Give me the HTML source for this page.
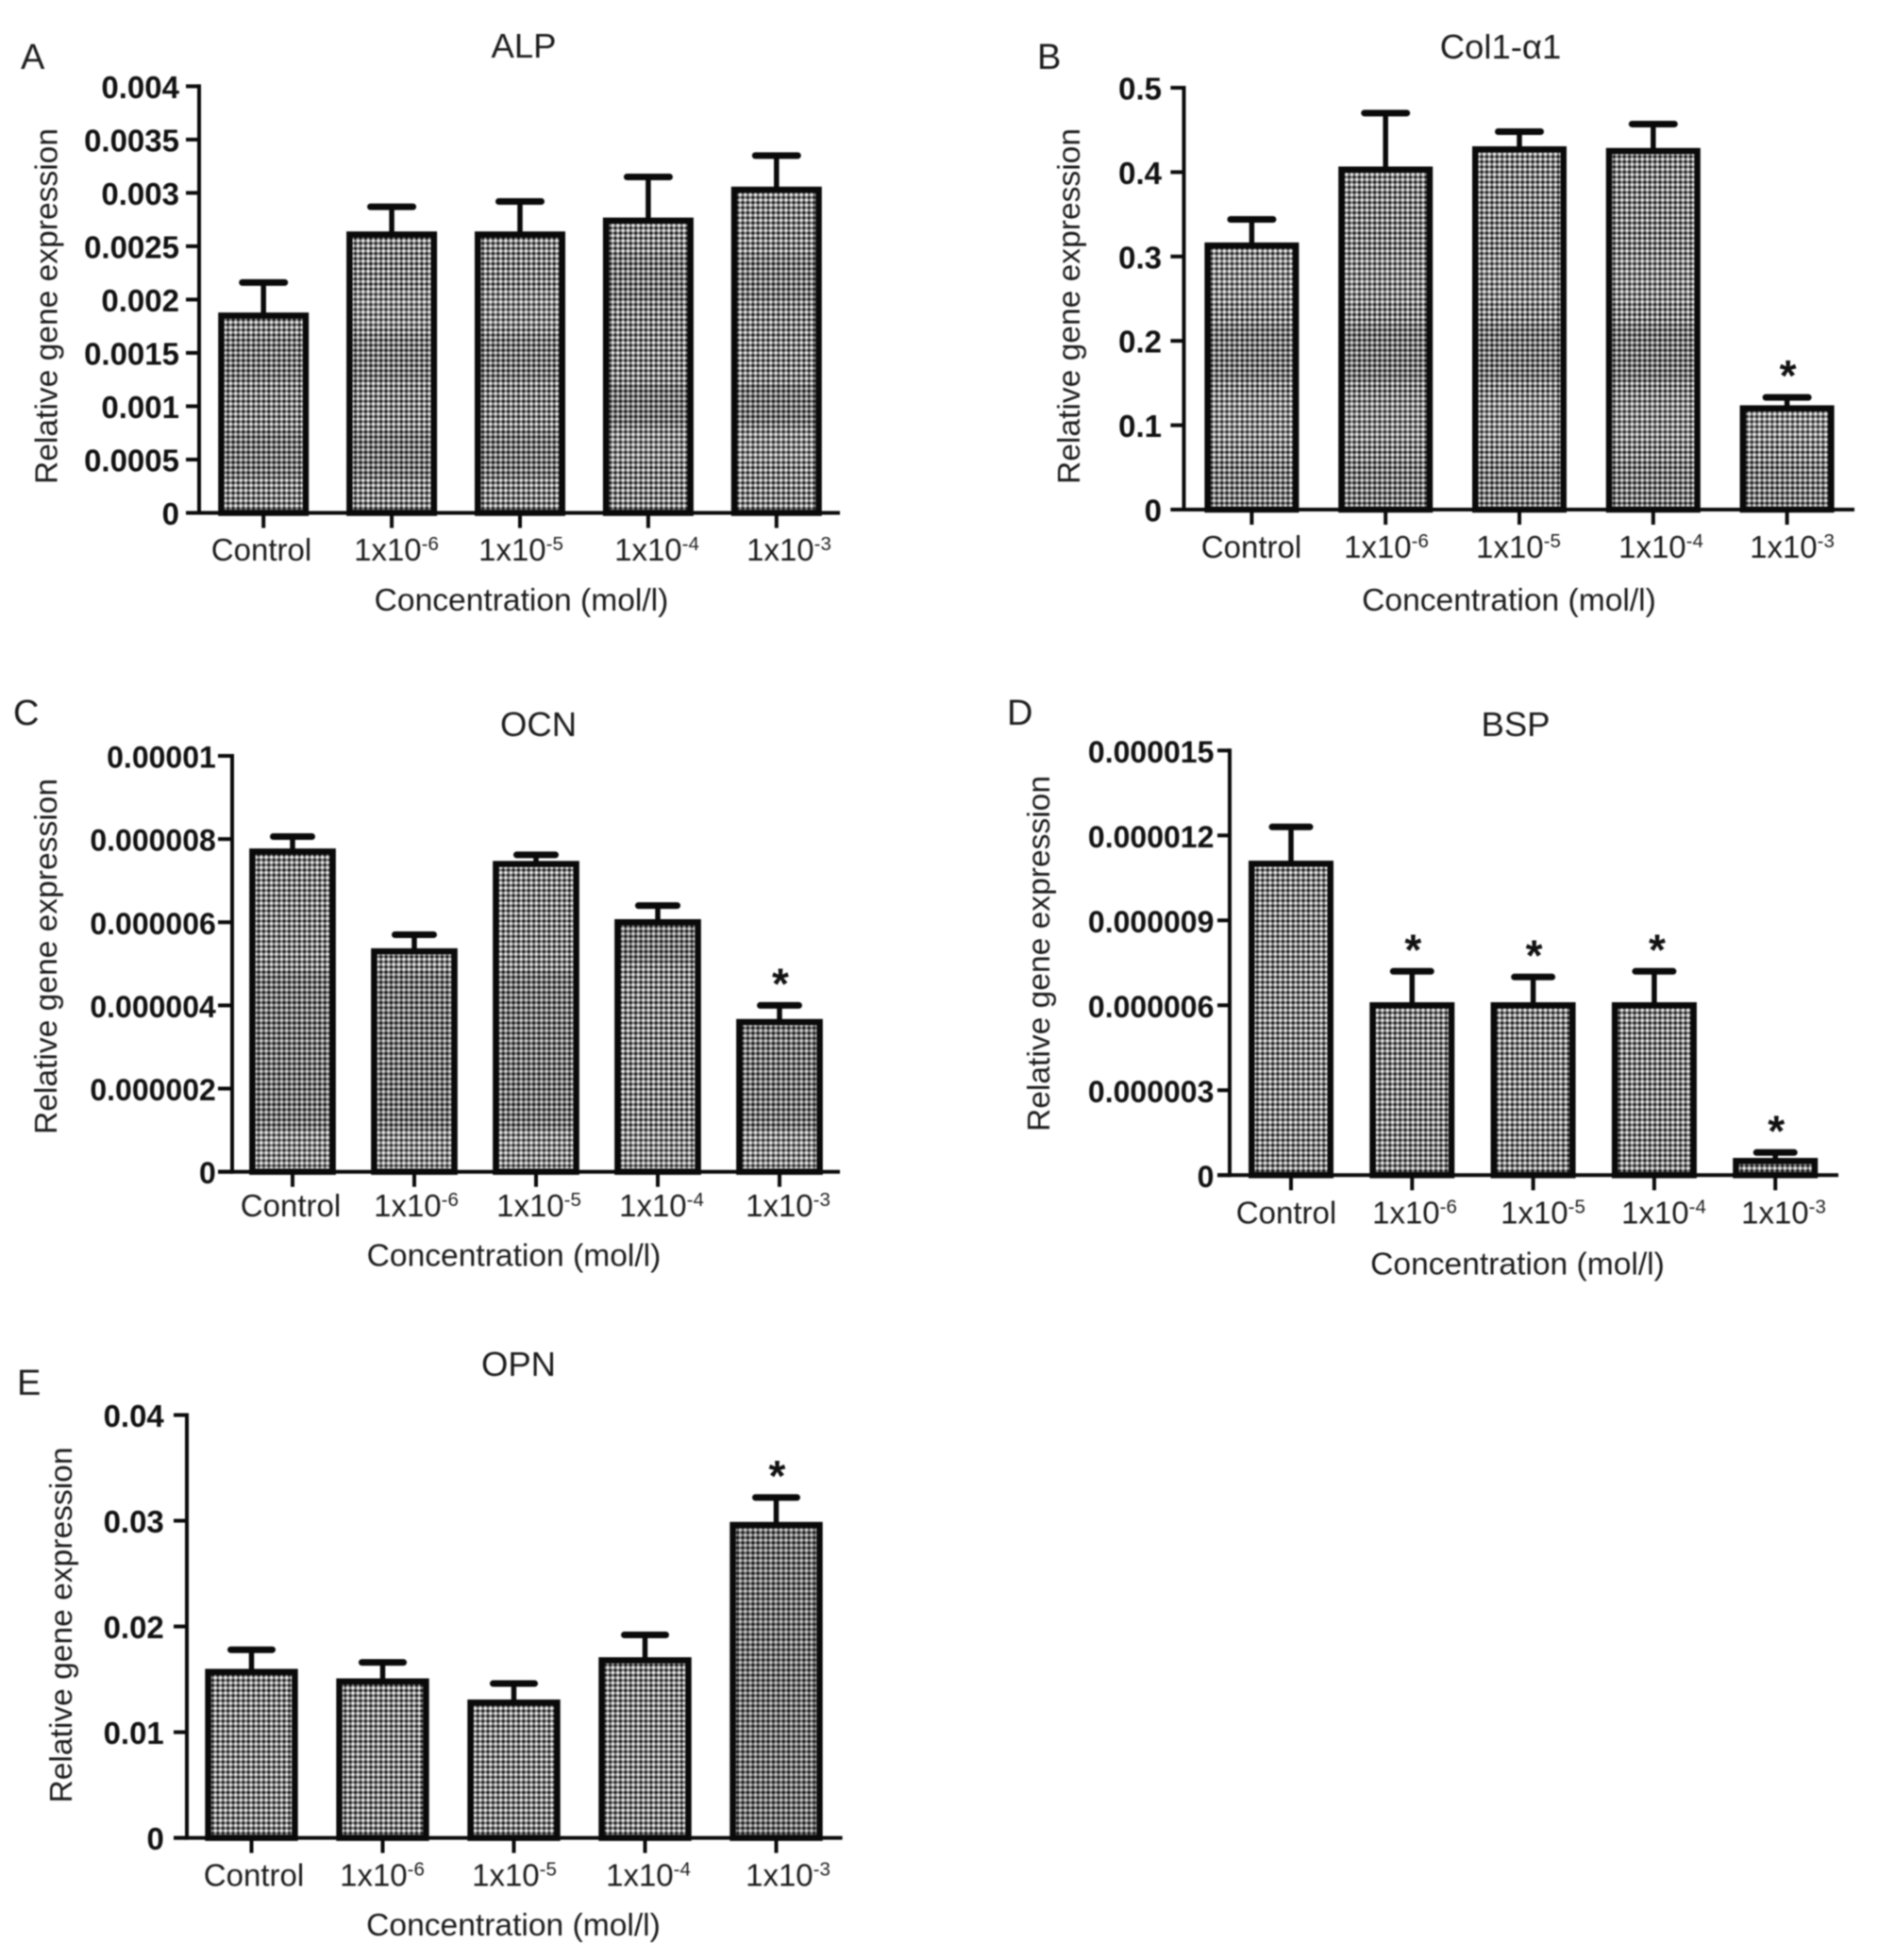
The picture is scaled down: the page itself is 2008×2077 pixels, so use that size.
<!DOCTYPE html>
<html lang="en">
<head>
<meta charset="utf-8">
<title>Relative gene expression by concentration</title>
<style>
  html, body { margin: 0; padding: 0; background: #fff; }
  svg { display: block; filter: blur(0.7px); }
  text { font-family: "Liberation Sans", Arial, sans-serif; fill: #1c1c1c; }
  .panel-letter { font-size: 38px; }
  .panel-title { font-size: 36.5px; text-anchor: middle; }
  .axis-title { font-size: 33.6px; text-anchor: middle; }
  .x-label { font-size: 33px; text-anchor: middle; }
  .y-label { font-size: 33px; font-weight: bold; text-anchor: end; fill: #111; }
  .star { font-size: 46px; font-weight: bold; text-anchor: middle; fill: #111; }
</style>
</head>
<body>
<svg id="figure" xmlns="http://www.w3.org/2000/svg" width="2008" height="2077" viewBox="0 0 2008 2077">
  <defs>
    <pattern id="dots" patternUnits="userSpaceOnUse" width="27" height="27">
      <rect width="27" height="27" fill="#808080"/>
      <g id="dot-tile"></g>
    </pattern>
  </defs>
  <rect width="2008" height="2077" fill="#ffffff"/>

  <g id="panel-a">
    <text class="panel-letter" x="22" y="73">A</text>
    <text class="panel-title" x="555" y="61">ALP</text>
    <text class="axis-title" transform="translate(60.5 324.5) rotate(-90)">Relative gene expression</text>
    <text class="axis-title" x="552.5" y="647">Concentration (mol/l)</text>
  </g>

  <g id="panel-b">
    <text class="panel-letter" x="1099" y="73">B</text>
    <text class="panel-title" x="1590" y="62">Col1-α1</text>
    <text class="axis-title" transform="translate(1144 324.5) rotate(-90)">Relative gene expression</text>
    <text class="axis-title" x="1599" y="647">Concentration (mol/l)</text>
  </g>

  <g id="panel-c">
    <text class="panel-letter" x="14" y="768">C</text>
    <text class="panel-title" x="570.5" y="780">OCN</text>
    <text class="axis-title" transform="translate(60 1013.5) rotate(-90)">Relative gene expression</text>
    <text class="axis-title" x="544.5" y="1341.5">Concentration (mol/l)</text>
  </g>

  <g id="panel-d">
    <text class="panel-letter" x="1067" y="768">D</text>
    <text class="panel-title" x="1606" y="780">BSP</text>
    <text class="axis-title" transform="translate(1112 1010.5) rotate(-90)">Relative gene expression</text>
    <text class="axis-title" x="1608" y="1350.5">Concentration (mol/l)</text>
  </g>

  <g id="panel-e">
    <text class="panel-letter" x="18" y="1478">E</text>
    <text class="panel-title" x="549.5" y="1458">OPN</text>
    <text class="axis-title" transform="translate(76 1722) rotate(-90)">Relative gene expression</text>
    <text class="axis-title" x="544" y="2051">Concentration (mol/l)</text>
  </g>
</svg>

<script>
// Shared categories
const categoryBases = ["Control", "1x10", "1x10", "1x10", "1x10"];
const categoryExponents = ["", "-6", "-5", "-4", "-3"];

// Panel A: ALP
const alpMeans = [0.00185, 0.00261, 0.00261, 0.00274, 0.00303];
const alpUppers = [0.00216, 0.00287, 0.00292, 0.00315, 0.00335];
const alpStars = [0, 0, 0, 0, 0];
const alpTicks = [0, 0.0005, 0.001, 0.0015, 0.002, 0.0025, 0.003, 0.0035, 0.004];
const alpTickLabels = ["0", "0.0005", "0.001", "0.0015", "0.002", "0.0025", "0.003", "0.0035", "0.004"];

// Panel B: Col1-alpha1
const colMeans = [0.313, 0.403, 0.427, 0.425, 0.120];
const colUppers = [0.344, 0.470, 0.448, 0.457, 0.133];
const colStars = [0, 0, 0, 0, 1];
const colTicks = [0, 0.1, 0.2, 0.3, 0.4, 0.5];
const colTickLabels = ["0", "0.1", "0.2", "0.3", "0.4", "0.5"];

// Panel C: OCN
const ocnMeans = [0.0000077, 0.0000053, 0.0000074, 0.000006, 0.0000036];
const ocnUppers = [0.00000806, 0.0000057, 0.00000762, 0.0000064, 0.000004];
const ocnStars = [0, 0, 0, 0, 1];
const ocnTicks = [0, 0.000002, 0.000004, 0.000006, 0.000008, 0.00001];
const ocnTickLabels = ["0", "0.000002", "0.000004", "0.000006", "0.000008", "0.00001"];

// Panel D: BSP
const bspMeans = [0.000011, 0.000006, 0.000006, 0.000006, 0.0000005];
const bspUppers = [0.0000123, 0.0000072, 0.000007, 0.0000072, 0.0000008];
const bspStars = [0, 1, 1, 1, 1];
const bspTicks = [0, 0.000003, 0.000006, 0.000009, 0.000012, 0.000015];
const bspTickLabels = ["0", "0.000003", "0.000006", "0.000009", "0.000012", "0.000015"];

// Panel E: OPN
const opnMeans = [0.0157, 0.0148, 0.0128, 0.0168, 0.0296];
const opnUppers = [0.0178, 0.0166, 0.0146, 0.0192, 0.0322];
const opnStars = [0, 0, 0, 0, 1];
const opnTicks = [0, 0.01, 0.02, 0.03, 0.04];
const opnTickLabels = ["0", "0.01", "0.02", "0.03", "0.04"];

const SVG_NS = "http://www.w3.org/2000/svg";
const INK = "#0a0a0a";
const BAR_STROKE = 6.5;

function mk(tag, attrs, parent) {
  const node = document.createElementNS(SVG_NS, tag);
  for (const key in attrs) node.setAttribute(key, attrs[key]);
  parent.appendChild(node);
  return node;
}

// Fill texture: five dot periods inside a whole-pixel tile
const dotTile = document.getElementById("dot-tile");
for (let r = 0; r < 5; r++) {
  for (let c = 0; c < 5; c++) {
    mk("circle", { cx: 1.35 + c * 5.4, cy: 1.35 + r * 5.4, r: 1.5, fill: "#f4f4f4" }, dotTile);
    mk("circle", { cx: 4.05 + c * 5.4, cy: 4.05 + r * 5.4, r: 1.4, fill: "#121212" }, dotTile);
  }
}

function drawPanel(cfg) {
  const root = document.getElementById("panel-" + cfg.id);
  const yMax = cfg.ticks[cfg.ticks.length - 1];
  const yScale = v => cfg.y0 - (v / yMax) * (cfg.y0 - cfg.y1);
  const xScale = i => cfg.x0 + i * cfg.step;

  cfg.means.forEach((mean, i) => {
    const cx = xScale(i);
    const top = yScale(mean);
    const capY = yScale(cfg.uppers[i]);
    const barX = cx - cfg.barW / 2 + BAR_STROKE / 2;
    const barInnerW = cfg.barW - BAR_STROKE;

    const stem = mk("line", { x1: cx, x2: cx, y1: capY, y2: top, stroke: INK, "stroke-width": 5.5 }, root);
    
    

    const cap = mk("line", { x1: cx - cfg.cap / 2 + 3.5, x2: cx + cfg.cap / 2 - 3.5, y1: capY, y2: capY, stroke: INK, "stroke-width": 7, "stroke-linecap": "round" }, root);
    
    

    const fill = mk("rect", { x: barX, y: top, width: barInnerW, height: cfg.y0 - top, fill: "url(#dots)" }, root);
    
    

    (cfg.bands || []).forEach((band, b) => {
      if (band.bars.indexOf(i) < 0) return;
      const from = Math.max(band.from, top);
      const to = Math.min(band.to, cfg.y0);
      if (to <= from) return;
      const shade = mk("rect", { x: barX, y: from, width: barInnerW, height: to - from, fill: band.tone > 0 ? "#000" : "#fff", "fill-opacity": Math.abs(band.tone) }, root);
      
      
    });

    const bar = mk("rect", { x: barX, y: top, width: barInnerW, height: cfg.y0 - top, fill: "none", stroke: INK, "stroke-width": BAR_STROKE }, root);
    
    

    if (cfg.stars[i]) {
      const star = mk("text", { class: "star", x: cx + (cfg.starNudge ? cfg.starNudge[i] : 0) + 1, y: capY - 33 + 26 }, root);
      star.textContent = "*";
      
      
    }

    const tick = mk("line", { x1: cx, x2: cx, y1: cfg.y0, y2: cfg.y0 + 16, stroke: INK, "stroke-width": 4 }, root);
    
    

    const label = mk("text", { class: "x-label", x: cfg.labelX[i] + 1, y: cfg.labelY }, root);
    
    
    const base = mk("tspan", {}, label);
    base.textContent = categoryBases[i];
    if (categoryExponents[i]) {
      const exp = mk("tspan", { dy: -11, "font-size": 20.5 }, label);
      exp.textContent = categoryExponents[i];
    }
  });

  const yAxis = mk("line", { x1: cfg.axisX, x2: cfg.axisX, y1: cfg.y1 - 2, y2: cfg.y0 + 2, stroke: INK, "stroke-width": 4 }, root);
  
  

  const xAxis = mk("line", { x1: cfg.axisL, x2: cfg.axisR, y1: cfg.y0, y2: cfg.y0, stroke: INK, "stroke-width": 4 }, root);
  
  

  cfg.ticks.forEach((t, i) => {
    const y = yScale(t);
    const tick = mk("line", { x1: cfg.axisL, x2: cfg.axisX, y1: y, y2: y, stroke: INK, "stroke-width": 4 }, root);
    
    

    const label = mk("text", { class: "y-label", x: cfg.yLabelX, y: y + 12.5, "font-size": cfg.yFont }, root);
    label.style.fontSize = cfg.yFont + "px";
    label.textContent = cfg.tickLabels[i];
    
    
  });
}

drawPanel({ id: "a", means: alpMeans, uppers: alpUppers, stars: alpStars, ticks: alpTicks, tickLabels: alpTickLabels,
  axisX: 211, axisL: 197, axisR: 890, y0: 543.5, y1: 91.4, x0: 279.2, step: 135.9, barW: 96, cap: 52,
  labelX: [276, 419, 551, 695, 835], labelY: 594, yLabelX: 190, yFont: 33,
  bands: [
    { from: 307, to: 347, tone: -0.06, bars: [1, 2] },
    { from: 357, to: 403, tone: 0.06, bars: [0, 1, 2] },
    { from: 457, to: 507, tone: 0.08, bars: [0, 1, 2] },
    { from: 270, to: 320, tone: 0.06, bars: [3, 4] },
    { from: 407, to: 450, tone: 0.09, bars: [3, 4] },
    { from: 457, to: 490, tone: -0.05, bars: [3, 4] }
  ] });

drawPanel({ id: "b", means: colMeans, uppers: colUppers, stars: colStars, ticks: colTicks, tickLabels: colTickLabels,
  axisX: 1254.5, axisL: 1240.4, axisR: 1965, y0: 540, y1: 93, x0: 1326.4, step: 141.8, barW: 100, cap: 52,
  labelX: [1325, 1468, 1608, 1759, 1898], labelY: 591, yLabelX: 1231, yFont: 33,
  bands: [
    { from: 270, to: 320, tone: -0.05, bars: [0, 1, 2, 3, 4] },
    { from: 343, to: 403, tone: 0.08, bars: [0, 1, 2, 3, 4] },
    { from: 420, to: 470, tone: -0.05, bars: [0, 1, 2, 3, 4] },
    { from: 490, to: 535, tone: 0.05, bars: [0, 1, 2, 3, 4] }
  ] });

drawPanel({ id: "c", means: ocnMeans, uppers: ocnUppers, stars: ocnStars, ticks: ocnTicks, tickLabels: ocnTickLabels,
  axisX: 246, axisL: 231, axisR: 890, y0: 1241.7, y1: 801, x0: 310, step: 129, barW: 91.7, cap: 48,
  labelX: [307, 440, 570, 700, 834], labelY: 1288.8, yLabelX: 228.8, yFont: 32,
  bands: [
    { from: 1030, to: 1197, tone: 0.09, bars: [0, 1, 2, 4] },
    { from: 981, to: 1020, tone: 0.09, bars: [3] },
    { from: 1197, to: 1242, tone: -0.06, bars: [0, 1, 2, 3, 4] }
  ] });

drawPanel({ id: "d", means: bspMeans, uppers: bspUppers, stars: bspStars, ticks: bspTicks, tickLabels: bspTickLabels,
  axisX: 1303, axisL: 1290, axisR: 1948, y0: 1245.3, y1: 795.3, x0: 1368, step: 128.3, barW: 90, cap: 47,
  starNudge: [0, 0, 0, 2, 0],
  labelX: [1362, 1498, 1634, 1762, 1889], labelY: 1296.7, yLabelX: 1286.4, yFont: 32 });

drawPanel({ id: "e", means: opnMeans, uppers: opnUppers, stars: opnStars, ticks: opnTicks, tickLabels: opnTickLabels,
  axisX: 198, axisL: 184, axisR: 892.6, y0: 1947.6, y1: 1499.5, x0: 266.5, step: 139, barW: 98.4, cap: 51,
  labelX: [268, 404, 544, 686, 834], labelY: 1998.6, yLabelX: 173.8, yFont: 33,
  bands: [
    { from: 1500, to: 1948, tone: 0.12, bars: [4] }
  ] });
</script>
</body>
</html>
